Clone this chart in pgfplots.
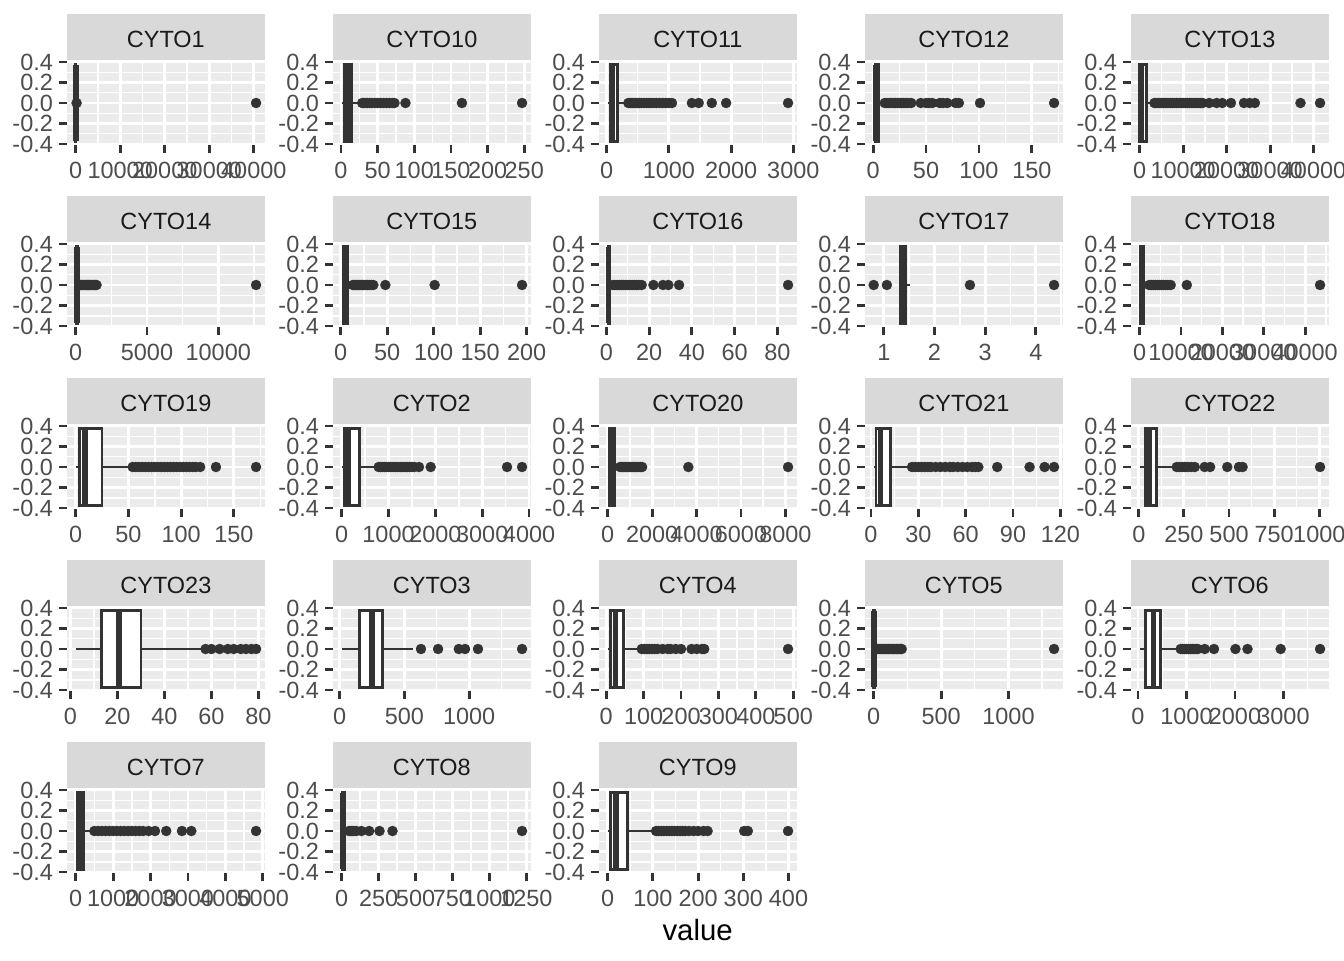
\documentclass[border=0pt]{standalone}
\usepackage{fontspec}
\setmainfont{Liberation Sans}
\usepackage{pgfplots}
\pgfplotsset{compat=1.18}
\usepgfplotslibrary{statistics}
\definecolor{panelbg}{HTML}{EBEBEB}
\definecolor{stripbg}{HTML}{D9D9D9}
\definecolor{g20}{HTML}{333333}
\definecolor{g30}{HTML}{4D4D4D}
\definecolor{g10}{HTML}{1A1A1A}
\pgfplotsset{
  facet/.style={
    scale only axis, width=74.4pt, height=31.75pt, anchor=south west,
    ymin=-0.4125, ymax=0.4125,
    ytick={-0.4,-0.2,0,0.2,0.4}, yticklabels={-0.4,-0.2,0.0,0.2,0.4},
    minor ytick={-0.3,-0.1,0.1,0.3},
    axis background/.style={fill=panelbg},
    axis line style={draw=none},
    xmajorgrids, ymajorgrids, xminorgrids, yminorgrids,
    major grid style={draw=white, line width=1.07pt},
    minor grid style={draw=white, line width=0.53pt},
    tick align=outside, xtick pos=bottom, ytick pos=left,
    major tick length=2.75pt, minor tick length=0pt,
    every tick/.style={draw=g20, line width=1.07pt},
    ticklabel style={font=\fontsize{8.8}{10}\selectfont, text=g30, inner sep=0pt},
    yticklabel style={anchor=east, xshift=-2.2pt},
    xticklabel style={anchor=north, yshift=-3.5pt},
    scaled x ticks=false,
    every axis title/.style={at={(0.5,1)}, anchor=south, fill=stripbg,
      minimum width=74.4pt, minimum height=17.25pt, inner sep=0pt,
      text height=7.9pt, text depth=0pt,
      text=g10, font=\fontsize{8.8}{10}\selectfont},
  },
  bx/.style={draw=g20, fill=white, line width=1.07pt,
    boxplot/draw direction=x, boxplot/box extend=0.75, boxplot/whisker extend=0,
    boxplot/every whisker/.style={line width=1.07pt},
    boxplot/every box/.style={line width=1.07pt},
    boxplot/every median/.style={line width=2.13pt}},
  outl/.style={only marks, mark=*, mark size=1.9pt, draw=g20, fill=g20, mark options={line width=0.1pt}},
}
\begin{document}
\begin{tikzpicture}
\path[use as bounding box] (0,0) rectangle (504pt,360pt);
% ---------------- Row 1
\begin{axis}[facet, at={(25.0pt,305.5pt)}, title=CYTO1, xmin=-2025, xmax=42525,
  xtick={0,10000,20000,30000,40000}, xticklabels={0,10000,20000,30000,40000},
  minor xtick={5000,15000,25000,35000}]
\addplot[bx, boxplot prepared={lower whisker=0, lower quartile=5, median=10, upper quartile=20, upper whisker=40, draw position=0}] coordinates {};
\addplot[outl] coordinates {(200,0) (40500,0)};
\end{axis}
\begin{axis}[facet, at={(124.75pt,305.5pt)}, title=CYTO10, xmin=-11.3, xmax=259.3,
  xtick={0,50,100,150,200,250}, xticklabels={0,50,100,150,200,250},
  minor xtick={25,75,125,175,225}]
\addplot[bx, boxplot prepared={lower whisker=1, lower quartile=5, median=8, upper quartile=14, upper whisker=27, draw position=0}] coordinates {};
\addplot[outl] coordinates {(29,0) (31,0) (33,0) (36,0) (39,0) (42,0) (46,0) (50,0) (54,0) (58,0) (62,0) (66,0) (70,0) (73,0) (88,0) (165,0) (247,0)};
\end{axis}
\begin{axis}[facet, at={(224.5pt,305.5pt)}, title=CYTO11, xmin=-127.9, xmax=3059.9,
  xtick={0,1000,2000,3000}, xticklabels={0,1000,2000,3000},
  minor xtick={500,1500,2500}]
\addplot[bx, boxplot prepared={lower whisker=17, lower quartile=55, median=85, upper quartile=180, upper whisker=330, draw position=0}] coordinates {};
\addplot[outl] coordinates {(350,0) (380,0) (410,0) (440,0) (470,0) (500,0) (530,0) (560,0) (600,0) (640,0) (680,0) (720,0) (760,0) (800,0) (850,0) (900,0) (950,0) (1000,0) (1050,0) (1370,0) (1480,0) (1690,0) (1920,0) (2915,0)};
\end{axis}
\begin{axis}[facet, at={(324.25pt,305.5pt)}, title=CYTO12, xmin=-8.0, xmax=179.5,
  xtick={0,50,100,150}, xticklabels={0,50,100,150},
  minor xtick={25,75,125,175}]
\addplot[bx, boxplot prepared={lower whisker=0.5, lower quartile=2, median=3, upper quartile=5, upper whisker=9.5, draw position=0}] coordinates {};
\addplot[outl] coordinates {(11,0) (13,0) (15,0) (17,0) (19,0) (21,0) (23,0) (25,0) (27,0) (29,0) (31,0) (33,0) (36,0) (45,0) (50,0) (53,0) (56,0) (63,0) (66,0) (70,0) (78,0) (81,0) (101,0) (171,0)};
\end{axis}
\begin{axis}[facet, at={(424.0pt,305.5pt)}, title=CYTO13, xmin=-2075, xmax=43575,
  xtick={0,10000,20000,30000,40000}, xticklabels={0,10000,20000,30000,40000},
  minor xtick={5000,15000,25000,35000}]
\addplot[bx, boxplot prepared={lower whisker=0, lower quartile=50, median=450, upper quartile=1600, upper whisker=3300, draw position=0}] coordinates {};
\addplot[outl] coordinates {(3400,0) (3800,0) (4200,0) (4600,0) (5000,0) (5500,0) (6000,0) (6500,0) (7000,0) (7500,0) (8000,0) (8500,0) (9000,0) (9500,0) (10000,0) (10500,0) (11000,0) (11500,0) (12000,0) (12500,0) (13000,0) (13500,0) (14000,0) (14500,0) (16000,0) (17700,0) (19000,0) (21000,0) (24000,0) (25300,0) (26500,0) (37000,0) (41500,0)};
\end{axis}
% ---------------- Row 2
\begin{axis}[facet, at={(25.0pt,237.25pt)}, title=CYTO14, xmin=-632.5, xmax=13282.5,
  xtick={0,5000,10000}, xticklabels={0,5000,10000},
  minor xtick={2500,7500,12500}]
\addplot[bx, boxplot prepared={lower whisker=0, lower quartile=30, median=80, upper quartile=150, upper whisker=320, draw position=0}] coordinates {};
\addplot[outl] coordinates {(340,0) (420,0) (500,0) (580,0) (660,0) (740,0) (820,0) (900,0) (980,0) (1060,0) (1140,0) (1220,0) (1300,0) (1380,0) (1460,0) (12650,0)};
\end{axis}
\begin{axis}[facet, at={(124.75pt,237.25pt)}, title=CYTO15, xmin=-8.7, xmax=204.7,
  xtick={0,50,100,150,200}, xticklabels={0,50,100,150,200},
  minor xtick={25,75,125,175}]
\addplot[bx, boxplot prepared={lower whisker=1, lower quartile=2.5, median=4, upper quartile=7.5, upper whisker=12, draw position=0}] coordinates {};
\addplot[outl] coordinates {(13,0) (14.5,0) (16,0) (17.5,0) (19,0) (20.5,0) (22,0) (23.5,0) (25,0) (27,0) (29,0) (31,0) (33,0) (35,0) (48,0) (101,0) (195,0)};
\end{axis}
\begin{axis}[facet, at={(224.5pt,237.25pt)}, title=CYTO16, xmin=-3.62, xmax=89.22,
  xtick={0,20,40,60,80}, xticklabels={0,20,40,60,80},
  minor xtick={10,30,50,70}]
\addplot[bx, boxplot prepared={lower whisker=0.6, lower quartile=0.8, median=1, upper quartile=1.5, upper whisker=2.5, draw position=0}] coordinates {};
\addplot[outl] coordinates {(3,0) (4,0) (5,0) (6,0) (7,0) (8,0) (9,0) (10,0) (11,0) (12,0) (13,0) (14,0) (15,0) (16.5,0) (22,0) (26.5,0) (29,0) (34,0) (85,0)};
\end{axis}
\begin{axis}[facet, at={(324.25pt,237.25pt)}, title=CYTO17, xmin=0.622, xmax=4.538,
  xtick={1,2,3,4}, xticklabels={1,2,3,4},
  minor xtick={1.5,2.5,3.5,4.5}]
\addplot[bx, boxplot prepared={lower whisker=1.29, lower quartile=1.32, median=1.37, upper quartile=1.42, upper whisker=1.51, draw position=0}] coordinates {};
\addplot[outl] coordinates {(0.8,0) (1.06,0) (2.7,0) (4.36,0)};
\end{axis}
\begin{axis}[facet, at={(424.0pt,237.25pt)}, title=CYTO18, xmin=-2180, xmax=45780,
  xtick={0,10000,20000,30000,40000}, xticklabels={0,10000,20000,30000,40000},
  minor xtick={5000,15000,25000,35000,45000}]
\addplot[bx, boxplot prepared={lower whisker=0, lower quartile=200, median=400, upper quartile=900, upper whisker=2000, draw position=0}] coordinates {};
\addplot[outl] coordinates {(2300,0) (2800,0) (3300,0) (3800,0) (4300,0) (4800,0) (5300,0) (5800,0) (6300,0) (6800,0) (7500,0) (11400,0) (43600,0)};
\end{axis}
% ---------------- Row 3
\begin{axis}[facet, at={(25.0pt,169.0pt)}, title=CYTO19, xmin=-8.55, xmax=179.55,
  xtick={0,50,100,150}, xticklabels={0,50,100,150},
  minor xtick={25,75,125,175}]
\addplot[bx, boxplot prepared={lower whisker=0, lower quartile=3.8, median=8.8, upper quartile=25, upper whisker=53, draw position=0}] coordinates {};
\addplot[outl] coordinates {(54,0) (57,0) (60,0) (63,0) (66,0) (69,0) (72,0) (75,0) (78,0) (81,0) (84,0) (87,0) (90,0) (93,0) (96,0) (99,0) (102,0) (105,0) (108,0) (111,0) (114,0) (118,0) (133,0) (171,0)};
\end{axis}
\begin{axis}[facet, at={(124.75pt,169.0pt)}, title=CYTO2, xmin=-192.5, xmax=4042.5,
  xtick={0,1000,2000,3000,4000}, xticklabels={0,1000,2000,3000,4000},
  minor xtick={500,1500,2500,3500}]
\addplot[bx, boxplot prepared={lower whisker=0, lower quartile=60, median=140, upper quartile=380, upper whisker=750, draw position=0}] coordinates {};
\addplot[outl] coordinates {(790,0) (830,0) (870,0) (910,0) (950,0) (1000,0) (1050,0) (1100,0) (1150,0) (1200,0) (1250,0) (1300,0) (1350,0) (1400,0) (1450,0) (1500,0) (1550,0) (1650,0) (1900,0) (3530,0) (3850,0)};
\end{axis}
\begin{axis}[facet, at={(224.5pt,169.0pt)}, title=CYTO20, xmin=-406, xmax=8526,
  xtick={0,2000,4000,6000,8000}, xticklabels={0,2000,4000,6000,8000},
  minor xtick={1000,3000,5000,7000}]
\addplot[bx, boxplot prepared={lower whisker=0, lower quartile=60, median=150, upper quartile=300, upper whisker=500, draw position=0}] coordinates {};
\addplot[outl] coordinates {(560,0) (630,0) (700,0) (770,0) (840,0) (910,0) (980,0) (1050,0) (1120,0) (1190,0) (1260,0) (1330,0) (1400,0) (1470,0) (1550,0) (3630,0) (8120,0)};
\end{axis}
\begin{axis}[facet, at={(324.25pt,169.0pt)}, title=CYTO21, xmin=-4.015, xmax=121.715,
  xtick={0,30,60,90,120}, xticklabels={0,30,60,90,120},
  minor xtick={15,45,75,105}]
\addplot[bx, boxplot prepared={lower whisker=1.7, lower quartile=3.2, median=6, upper quartile=12.5, upper whisker=24.5, draw position=0}] coordinates {};
\addplot[outl] coordinates {(26,0) (28,0) (30,0) (32,0) (34,0) (36,0) (38,0) (41,0) (44,0) (47,0) (50,0) (52,0) (55,0) (58,0) (61,0) (64,0) (66,0) (68,0) (80,0) (100.5,0) (110,0) (116,0)};
\end{axis}
\begin{axis}[facet, at={(424.0pt,169.0pt)}, title=CYTO22, xmin=-44.95, xmax=1053.95,
  xtick={0,250,500,750,1000}, xticklabels={0,250,500,750,1000},
  minor xtick={125,375,625,875}]
\addplot[bx, boxplot prepared={lower whisker=5, lower quartile=34, median=55, upper quartile=100, upper whisker=200, draw position=0}] coordinates {};
\addplot[outl] coordinates {(210,0) (225,0) (240,0) (255,0) (270,0) (290,0) (310,0) (365,0) (395,0) (490,0) (555,0) (575,0) (1004,0)};
\end{axis}
% ---------------- Row 4
\begin{axis}[facet, at={(25.0pt,100.75pt)}, title=CYTO23, xmin=-1.64, xmax=82.84,
  xtick={0,20,40,60,80}, xticklabels={0,20,40,60,80},
  minor xtick={10,30,50,70}]
\addplot[bx, boxplot prepared={lower whisker=2.2, lower quartile=13.2, median=20.5, upper quartile=30, upper whisker=56.8, draw position=0}] coordinates {};
\addplot[outl] coordinates {(57.5,0) (60,0) (63.5,0) (67,0) (69.5,0) (72.5,0) (74.7,0) (77,0) (79,0)};
\end{axis}
\begin{axis}[facet, at={(124.75pt,100.75pt)}, title=CYTO3, xmin=-53.6, xmax=1477.6,
  xtick={0,500,1000}, xticklabels={0,500,1000},
  minor xtick={250,750,1250}]
\addplot[bx, boxplot prepared={lower whisker=16, lower quartile=156, median=248, upper quartile=328, upper whisker=568, draw position=0}] coordinates {};
\addplot[outl] coordinates {(628,0) (760,0) (920,0) (968,0) (1068,0) (1408,0)};
\end{axis}
\begin{axis}[facet, at={(224.5pt,100.75pt)}, title=CYTO4, xmin=-20.1, xmax=510.1,
  xtick={0,100,200,300,400,500}, xticklabels={0,100,200,300,400,500},
  minor xtick={50,150,250,350,450}]
\addplot[bx, boxplot prepared={lower whisker=4, lower quartile=11, median=25, upper quartile=46, upper whisker=88, draw position=0}] coordinates {};
\addplot[outl] coordinates {(95,0) (102,0) (109,0) (116,0) (123,0) (130,0) (137,0) (151,0) (165,0) (172,0) (186,0) (200,0) (228,0) (242,0) (256,0) (262,0) (486,0)};
\end{axis}
\begin{axis}[facet, at={(324.25pt,100.75pt)}, title=CYTO5, xmin=-66.9, xmax=1404.9,
  xtick={0,500,1000}, xticklabels={0,500,1000},
  minor xtick={250,750,1250}]
\addplot[bx, boxplot prepared={lower whisker=0, lower quartile=1, median=3, upper quartile=6, upper whisker=14, draw position=0}] coordinates {};
\addplot[outl] coordinates {(18,0) (28,0) (38,0) (48,0) (58,0) (68,0) (78,0) (88,0) (98,0) (108,0) (118,0) (128,0) (138,0) (148,0) (158,0) (168,0) (178,0) (188,0) (198,0) (208,0) (1338,0)};
\end{axis}
\begin{axis}[facet, at={(424.0pt,100.75pt)}, title=CYTO6, xmin=-150.95, xmax=3939.95,
  xtick={0,1000,2000,3000}, xticklabels={0,1000,2000,3000},
  minor xtick={500,1500,2500,3500}]
\addplot[bx, boxplot prepared={lower whisker=35, lower quartile=155, median=318, upper quartile=460, upper whisker=847, draw position=0}] coordinates {};
\addplot[outl] coordinates {(880,0) (920,0) (960,0) (1000,0) (1040,0) (1080,0) (1120,0) (1160,0) (1200,0) (1235,0) (1376,0) (1567,0) (2010,0) (2258,0) (2942,0) (3754,0)};
\end{axis}
% ---------------- Row 5
\begin{axis}[facet, at={(25.0pt,32.5pt)}, title=CYTO7, xmin=-241, xmax=5061,
  xtick={0,1000,2000,3000,4000,5000}, xticklabels={0,1000,2000,3000,4000,5000},
  minor xtick={500,1500,2500,3500,4500}]
\addplot[bx, boxplot prepared={lower whisker=0, lower quartile=40, median=110, upper quartile=220, upper whisker=430, draw position=0}] coordinates {};
\addplot[outl] coordinates {(500,0) (600,0) (700,0) (800,0) (900,0) (1000,0) (1100,0) (1200,0) (1300,0) (1400,0) (1500,0) (1600,0) (1700,0) (1800,0) (1950,0) (2120,0) (2420,0) (2840,0) (3090,0) (4820,0)};
\end{axis}
\begin{axis}[facet, at={(124.75pt,32.5pt)}, title=CYTO8, xmin=-61.05, xmax=1282.05,
  xtick={0,250,500,750,1000,1250}, xticklabels={0,250,500,750,1000,1250},
  minor xtick={125,375,625,875,1125}]
\addplot[bx, boxplot prepared={lower whisker=0, lower quartile=3, median=8, upper quartile=18, upper whisker=40, draw position=0}] coordinates {};
\addplot[outl] coordinates {(50,0) (60,0) (70,0) (80,0) (98,0) (133,0) (186,0) (256,0) (344,0) (1221,0)};
\end{axis}
\begin{axis}[facet, at={(224.5pt,32.5pt)}, title=CYTO9, xmin=-19.95, xmax=418.95,
  xtick={0,100,200,300,400}, xticklabels={0,100,200,300,400},
  minor xtick={50,150,250,350}]
\addplot[bx, boxplot prepared={lower whisker=0, lower quartile=7, median=18, upper quartile=44, upper whisker=101, draw position=0}] coordinates {};
\addplot[outl] coordinates {(107,0) (112,0) (118,0) (124,0) (130,0) (136,0) (142,0) (148,0) (154,0) (160,0) (166,0) (172,0) (180,0) (190,0) (200,0) (212,0) (221,0) (302,0) (310,0) (399,0)};
\end{axis}
\node[anchor=base, font=\fontsize{11}{13}\selectfont, text=black] at (261.6pt,7.2pt) {value};
\end{tikzpicture}
\end{document}
